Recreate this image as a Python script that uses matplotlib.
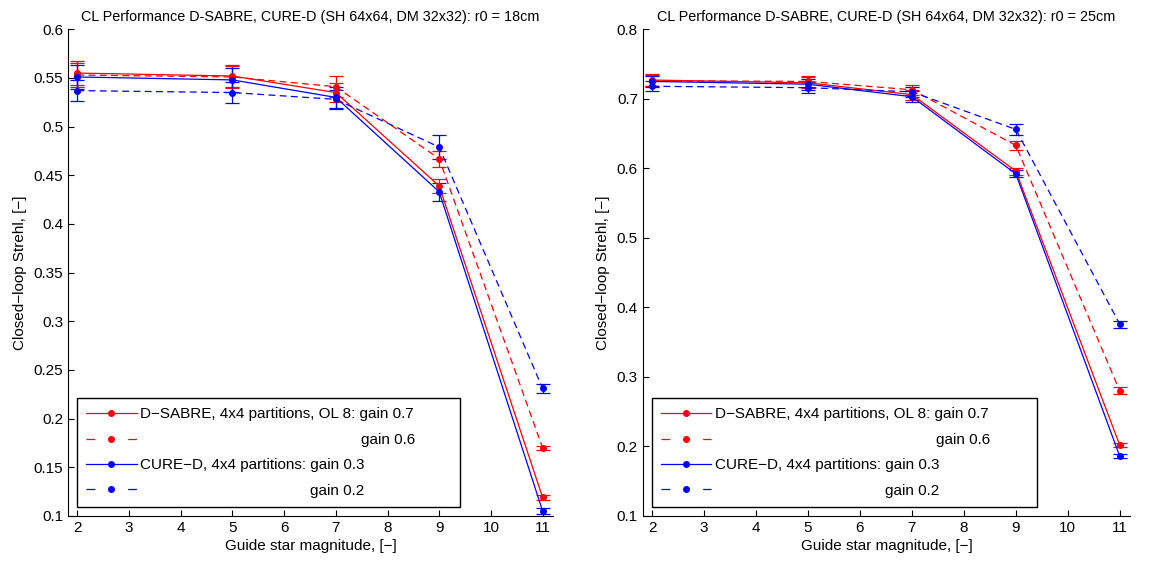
import numpy as np
import matplotlib
matplotlib.use("Agg")
import matplotlib.pyplot as plt
from matplotlib.lines import Line2D
from matplotlib.ticker import FormatStrFormatter, MultipleLocator
from matplotlib.font_manager import FontProperties

plt.rcParams['font.family'] = ['Liberation Sans', 'DejaVu Sans']

# guide star magnitudes
mags = [2, 5, 7, 9, 11]

# r0 = 18cm
l_dsabre_07 = [0.555, 0.552, 0.535, 0.439, 0.119]
l_dsabre_07_err = [0.012, 0.011, 0.010, 0.007, 0.003]
l_dsabre_06 = [0.553, 0.551, 0.541, 0.467, 0.170]
l_dsabre_06_err = [0.012, 0.011, 0.011, 0.008, 0.002]
l_cured_03 = [0.551, 0.548, 0.530, 0.433, 0.105]
l_cured_03_err = [0.012, 0.012, 0.011, 0.009, 0.003]
l_cured_02 = [0.537, 0.535, 0.528, 0.479, 0.231]
l_cured_02_err = [0.011, 0.011, 0.010, 0.012, 0.005]

# r0 = 25cm
r_dsabre_07 = [0.727, 0.723, 0.706, 0.596, 0.202]
r_dsabre_07_err = [0.008, 0.008, 0.007, 0.005, 0.003]
r_dsabre_06 = [0.726, 0.725, 0.713, 0.633, 0.280]
r_dsabre_06_err = [0.008, 0.008, 0.007, 0.007, 0.005]
r_cured_03 = [0.725, 0.721, 0.703, 0.592, 0.186]
r_cured_03_err = [0.008, 0.008, 0.008, 0.005, 0.003]
r_cured_02 = [0.718, 0.716, 0.710, 0.656, 0.376]
r_cured_02_err = [0.007, 0.008, 0.007, 0.008, 0.005]

titles = ["CL Performance D-SABRE, CURE-D (SH 64x64, DM 32x32): r0 = 18cm",
          "CL Performance D-SABRE, CURE-D (SH 64x64, DM 32x32): r0 = 25cm"]
label_07 = "D\u2212SABRE, 4x4 partitions, OL 8: gain 0.7"
label_03 = "CURE\u2212D, 4x4 partitions: gain 0.3"

fig = plt.figure(figsize=(11.52, 5.63), dpi=100)
ax1 = fig.add_axes([0.059, 0.0835, 0.421, 0.8645])
ax2 = fig.add_axes([0.558, 0.0835, 0.423, 0.8645])

# pad the second-gain labels with spaces so they line up under the first ones
fs_leg = 11
renderer = fig.canvas.get_renderer()
fp = FontProperties(family=['Liberation Sans'], size=fs_leg)
def tw(s):
    return renderer.get_text_width_height_descent(s, fp, ismath=False)[0]
space_w = tw("a a") - tw("aa")
def pad(full, short):
    n = int(round((tw(full) - tw(short)) / space_w))
    return " " * n + short
label_06 = pad(label_07, "gain 0.6")
label_02 = pad(label_03, "gain 0.2")

dash = (5.5, 3.5)
hlen = 3.3
# legend sample: one dash at each end, dot in the middle
leg_dash = (7.0, (hlen * fs_leg - 2 * 7.0 * 0.9) / 0.9)
panels = [
    (ax1, [(l_dsabre_07, l_dsabre_07_err), (l_dsabre_06, l_dsabre_06_err),
           (l_cured_03, l_cured_03_err), (l_cured_02, l_cured_02_err)],
     (0.1, 0.6), 0.05),
    (ax2, [(r_dsabre_07, r_dsabre_07_err), (r_dsabre_06, r_dsabre_06_err),
           (r_cured_03, r_cured_03_err), (r_cured_02, r_cured_02_err)],
     (0.1, 0.8), 0.1),
]
styles = [('red', '-', label_07), ('red', '--', label_06),
          ('blue', '-', label_03), ('blue', '--', label_02)]

for i, (ax, series, ylim, ystep) in enumerate(panels):
    handles = []
    for (vals, errs), (col, ls, lab) in zip(series, styles):
        eb = ax.errorbar(mags, vals, yerr=errs, color=col, ls=ls, lw=0.9,
                         marker='.', ms=8, capsize=5, elinewidth=0.9,
                         capthick=0.9)
        h = Line2D([], [], color=col, lw=0.9, marker='.', ms=8, label=lab)
        if ls == '--':
            eb[0].set_dashes(dash)
            h.set_dashes(leg_dash)
        handles.append(h)
    ax.set_xlim(1.82, 11.2)
    ax.set_ylim(*ylim)
    ax.set_xticks(range(2, 12))
    ax.yaxis.set_major_locator(MultipleLocator(ystep))
    ax.yaxis.set_major_formatter(FormatStrFormatter('%g'))
    ax.spines['top'].set_visible(False)
    ax.spines['right'].set_visible(False)
    ax.spines['left'].set_linewidth(0.8)
    ax.spines['bottom'].set_linewidth(0.8)
    ax.tick_params(direction='in', length=4, width=0.8, labelsize=11)
    ax.set_title(titles[i], fontsize=10.4, pad=6)
    ax.set_xlabel("Guide star magnitude, [\u2212]", fontsize=11, labelpad=3)
    ax.set_ylabel("Closed\u2212loop Strehl, [\u2212]", fontsize=11, labelpad=5)

    leg = ax.legend(handles=handles, loc='lower left', mode='expand',
                    bbox_to_anchor=(0.0186, 0.0185, 0.79, 0.2235),
                    borderaxespad=0, fontsize=fs_leg, fancybox=False,
                    framealpha=1, edgecolor='black', handlelength=hlen,
                    labelspacing=0.75, borderpad=0.6, handletextpad=0.2,
                    numpoints=1)
    leg.get_frame().set_linewidth(1.0)

fig.savefig("out.png", dpi=100)
